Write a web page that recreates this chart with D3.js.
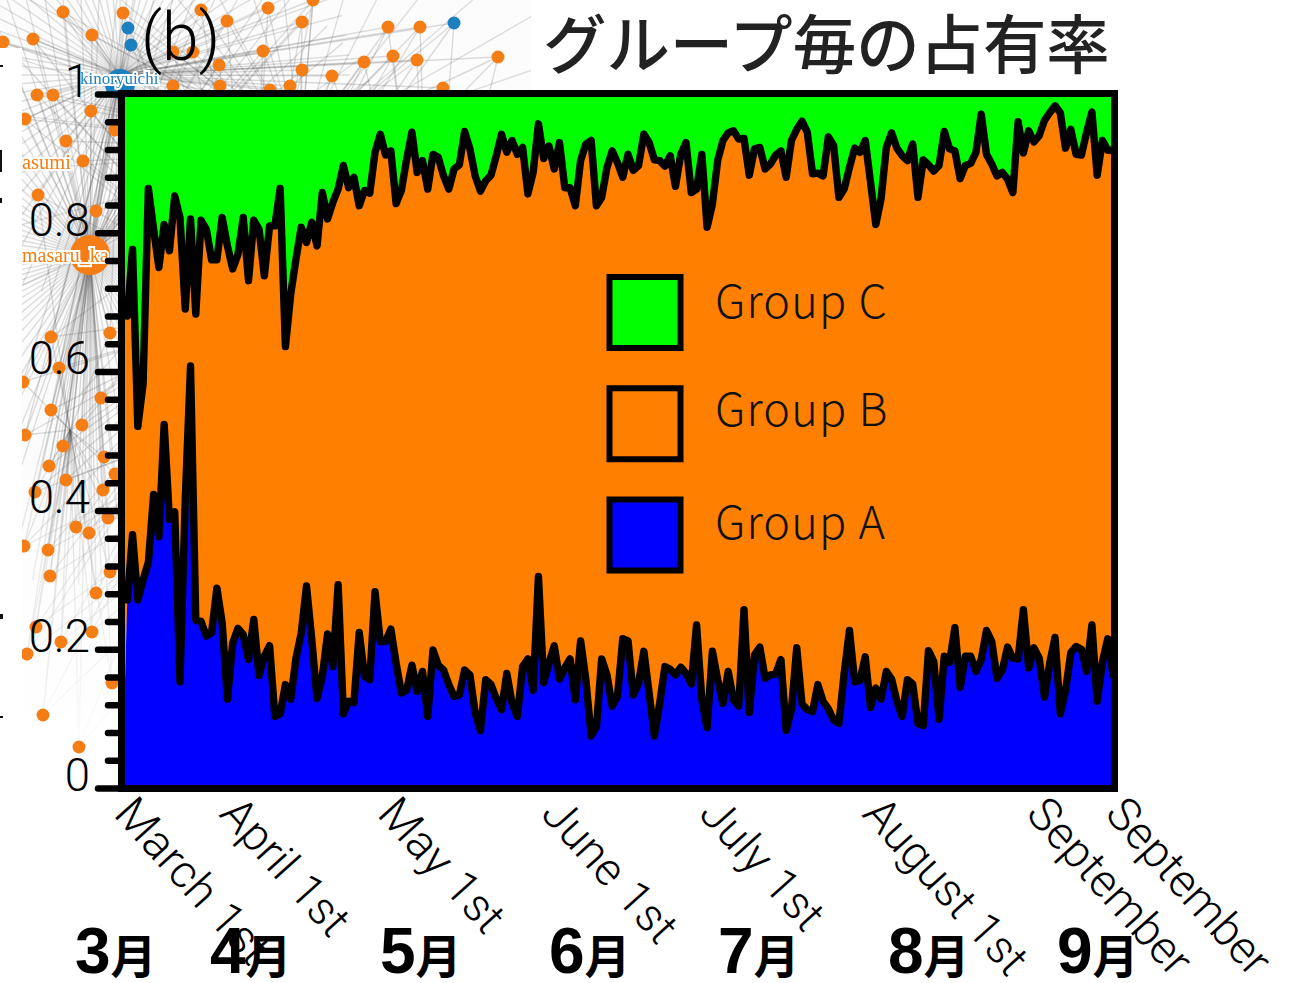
<!DOCTYPE html>
<html lang="ja">
<head>
<meta charset="utf-8">
<title>グループ毎の占有率</title>
<script src="https://cdnjs.cloudflare.com/ajax/libs/d3/7.8.5/d3.min.js"></script>
<style>
html,body{margin:0;padding:0;background:#fff;overflow:hidden;width:1305px;height:983px}
svg{display:block}
</style>
</head>
<body>
<div id="chart"></div>
<script>
// ---- chart data (daily share per group) ----
const groupA = [0,.271,.365,.271,.300,.325,.423,.362,.524,.387,.398,.153,.416,.608,.242,.240,.219,.224,.288,.238,
.128,.209,.230,.221,.185,.243,.162,.190,.205,.103,.107,.149,.128,.187,.223,.291,.214,.129,.161,.222,
.175,.293,.107,.125,.123,.224,.161,.156,.283,.211,.211,.229,.180,.137,.141,.177,.139,.168,.103,.199,
.177,.170,.149,.132,.134,.170,.163,.108,.083,.156,.149,.129,.113,.165,.122,.103,.175,.186,.141,.305,
.152,.180,.205,.157,.173,.186,.127,.212,.156,.075,.088,.186,.163,.118,.132,.215,.212,.134,.151,.197,
.137,.075,.122,.175,.171,.163,.174,.165,.150,.235,.127,.087,.197,.156,.122,.168,.127,.118,.257,.109,
.192,.203,.158,.163,.164,.185,.083,.113,.202,.121,.113,.110,.149,.125,.114,.098,.093,.165,.227,.153,
.155,.189,.116,.144,.128,.168,.157,.125,.103,.156,.150,.093,.090,.198,.182,.099,.190,.181,.231,.145,
.190,.190,.168,.185,.227,.211,.158,.170,.203,.187,.186,.257,.173,.202,.187,.131,.180,.217,.107,.141,
.195,.204,.200,.168,.235,.125,.182,.215,.163];
// Upper edge of Group B: Group A + Group B. Group C fills the rest up to 1.
const groupAplusB = [1,.680,.776,.521,.582,.864,.805,.750,.812,.774,.853,.822,.690,.820,.683,.818,.805,.761,.761,.822,
.781,.748,.769,.822,.731,.818,.805,.738,.810,.810,.864,.636,.711,.762,.808,.786,.815,.781,.858,.820,
.844,.863,.897,.865,.880,.839,.861,.857,.916,.942,.912,.918,.842,.861,.906,.945,.887,.904,.863,.913,
.909,.882,.863,.892,.898,.946,.921,.882,.860,.875,.883,.911,.942,.916,.933,.913,.923,.856,.887,.957,
.907,.925,.892,.930,.865,.865,.839,.904,.928,.933,.839,.851,.894,.918,.901,.880,.913,.890,.897,.942,
.930,.905,.904,.896,.911,.867,.913,.930,.858,.863,.913,.808,.841,.904,.933,.944,.947,.935,.936,.883,
.921,.923,.892,.899,.912,.918,.880,.933,.949,.961,.945,.885,.886,.882,.938,.926,.851,.863,.894,.922,
.916,.933,.873,.812,.849,.923,.944,.922,.911,.904,.928,.851,.905,.898,.889,.897,.946,.921,.918,.878,
.897,.900,.916,.971,.913,.899,.882,.887,.877,.858,.960,.915,.947,.931,.940,.962,.973,.983,.973,.922,
.949,.913,.912,.945,.974,.883,.933,.919,.919];
const tickDays   = [0,20,50,81,111,142,173,188];
const tickLabels = ["March 1st","April 1st","May 1st","June 1st","July 1st","August 1st","September","September"];
const yMajor = [0,.2,.4,.6,.8,1];
const yMinor = [.04,.08,.12,.16,.24,.28,.32,.36,.44,.48,.52,.56,.64,.68,.72,.76,.84,.88,.92,.96];
const monthDigits = ["3","4","5","6","7","8","9"];
const monthPos    = [75,210,380,549,718,888,1057];
const legendNames  = ["Group C","Group B","Group A"];
const legendColors = ["#00ff00","#ff7f00","#0000ff"];
const legendTextDy = [5,2,4];

// ---- backdrop: the network picture the chart was pasted over ----
const nodeX = [3,33,63,92,123,201,227,268,302,313,388,420,263,173,193,219,302,332,364,393,417,498,173,220,270,290,443,37,53,91,25,115,66,83,38,96,51,110,59,23,101,51,82,25,63,104,49,115,66,35,103,108,76,89,24,48,110,50,96,36,92,61,27,112,43,79];
const nodeY = [42,39,12,35,13,10,21,8,22,0,27,27,51,52,52,65,70,76,62,56,60,57,86,86,90,86,88,95,95,111,119,130,141,161,195,211,337,333,368,382,398,410,425,435,446,457,466,474,480,492,490,518,527,533,546,550,572,576,593,627,632,642,654,683,715,747];
const blueX = [128,131,454];
const blueY = [28,45,23];
const hubX = [120,90,250,430,70,300];
const hubY = [75,255,310,340,430,150];

const W = 1305, H = 983;
const svg = d3.select("#chart").append("svg").attr("width",W).attr("height",H).style("font-family","'Liberation Sans',Arial,sans-serif");
const lightFont = "Roboto,'Liberation Sans',sans-serif";

const px = d3.scaleIdentity();
const defs = svg.append("defs");
const clip = defs.append("clipPath").attr("id","bgclip");
clip.append("rect").attr("x",0).attr("y",0).attr("width",531).attr("height",48);
clip.append("rect").attr("x",22).attr("y",48).attr("width",509).attr("height",740);
const fade = defs.append("linearGradient").attr("id","fade").attr("x1",0).attr("y1",0).attr("x2",0).attr("y2",1);
fade.append("stop").attr("offset","0").attr("stop-color","#fff").attr("stop-opacity",0);
fade.append("stop").attr("offset","1").attr("stop-color","#fff").attr("stop-opacity",.9);
defs.append("filter").attr("id","soft").append("feGaussianBlur").attr("stdDeviation",.6);

const bg = svg.append("g").attr("clip-path","url(#bgclip)").append("g").attr("filter","url(#soft)");
const nodes = nodeX.map((x,i)=>({x,y:nodeY[i]})).concat(blueX.map((x,i)=>({x,y:blueY[i]})));
const hubs = hubX.map((x,i)=>({x,y:hubY[i]}));
const edges = [];
nodes.forEach(n=>{
  const order = hubs.map(h=>({h,d:Math.hypot(h.x-n.x,h.y-n.y)})).sort((a,b)=>a.d-b.d);
  edges.push({a:n,b:order[0].h},{a:n,b:order[1].h},{a:n,b:order[2].h},{a:n,b:order[3].h});
});
// dense fans around the two big hubs
const fan = (hub,len,step)=>d3.range(0,360,step).map(deg=>({a:hub,b:{x:hub.x+len*Math.cos(deg*Math.PI/180),y:hub.y+len*Math.sin(deg*Math.PI/180)}}));
const fans = fan(hubs[0],230,5).concat(fan(hubs[1],330,4)).concat(fan(hubs[5],330,11));
bg.append("rect").attr("x",0).attr("y",0).attr("width",531).attr("height",808).attr("fill","#fcfcfc");
bg.append("g").selectAll("line").data(fans).join("line")
  .attr("x1",d=>d.a.x).attr("y1",d=>d.a.y).attr("x2",d=>d.b.x).attr("y2",d=>d.b.y)
  .attr("stroke","#666").attr("stroke-opacity",.2).attr("stroke-width",1.4);
bg.append("g").selectAll("line").data(edges).join("line")
  .attr("x1",d=>px(d.a.x)).attr("y1",d=>px(d.a.y)).attr("x2",d=>px(d.b.x)).attr("y2",d=>px(d.b.y))
  .attr("stroke","#555").attr("stroke-opacity",.2).attr("stroke-width",1.4);
bg.append("rect").attr("x",22).attr("y",430).attr("width",100).attr("height",300).attr("fill","url(#fade)");
bg.append("rect").attr("x",22).attr("y",730).attr("width",100).attr("height",80).attr("fill","#fff").attr("fill-opacity",.9);
bg.append("g").selectAll("circle.o").data(nodeX).join("circle").attr("class","o")
  .attr("cx",(d)=>px(d)).attr("cy",(d,i)=>px(nodeY[i])).attr("r",6.5).attr("fill","#f57d14");
bg.append("g").selectAll("circle.b").data(blueX).join("circle").attr("class","b")
  .attr("cx",d=>px(d)).attr("cy",(d,i)=>px(blueY[i])).attr("r",6.5).attr("fill","#1f7fc0");
bg.append("circle").attr("cx",120).attr("cy",84).attr("r",15).attr("fill","#1f7fc0");
bg.append("circle").attr("cx",90).attr("cy",255).attr("r",20).attr("fill","#f57d14");
const tags = [["kinoryuichi",80,84,17,"#1f7fc0"],["asumi",22,169,20.5,"#f57d14"],["masaru_ka",22,262,20,"#f57d14"]];
const tagG = bg.append("g").style("font-family","'Liberation Serif',serif");
tags.forEach(t=>{
  tagG.append("text").attr("x",t[1]).attr("y",t[2]).attr("font-size",t[3]).attr("fill",t[4])
    .attr("stroke","#fff").attr("stroke-width",4).attr("paint-order","stroke").text(t[0]);
});
// cropped glyph fragments at the far left edge
[[0,65,3,2],[0,150,2,22],[0,198,2,5],[0,614,3,5],[0,716,3,2]].forEach(r=>{
  svg.append("rect").attr("x",r[0]).attr("y",r[1]).attr("width",r[2]).attr("height",r[3]).attr("fill","#111");
});

// ---- scales ----
const x = d3.scaleLinear().domain([0,188]).range([122,1113]);
const y = d3.scaleLinear().domain([0,1]).range([788,94]);
const days = d3.range(groupA.length);

const areaC = d3.area().x(i=>x(i)).y0(i=>y(groupAplusB[i])).y1(()=>y(1));
const areaB = d3.area().x(i=>x(i)).y0(i=>y(groupA[i])).y1(i=>y(groupAplusB[i]));
const areaA = d3.area().x(i=>x(i)).y0(()=>y(0)).y1(i=>y(groupA[i]));
const g = svg.append("g");
g.append("path").datum(days).attr("d",areaC).attr("fill",legendColors[0]);
g.append("path").datum(days).attr("d",areaB).attr("fill",legendColors[1]);
g.append("path").datum(days).attr("d",areaA).attr("fill",legendColors[2]);

// the outlines start on the second day
const lineA = d3.line().defined(i=>i>0).x(i=>x(i)).y(i=>y(groupA[i]));
const lineAB = d3.line().defined(i=>i>0).x(i=>x(i)).y(i=>y(groupAplusB[i]));
[lineA,lineAB].forEach(l=>{
  g.append("path").datum(days).attr("d",l).attr("fill","none").attr("stroke","#000")
    .attr("stroke-width",7.4).attr("stroke-linejoin","round").attr("stroke-linecap","round");
});

// ---- axes ----
const minorAxis = d3.axisLeft(y).tickValues(yMinor).tickSize(10).tickFormat("");
const majorAxis = d3.axisLeft(y).tickValues(yMajor).tickSize(20).tickFormat(d3.format("~g")).tickPadding(8);
const gMinor = svg.append("g").attr("transform","translate(118,0)").call(minorAxis);
const gMajor = svg.append("g").attr("transform","translate(118,0)").call(majorAxis);
[gMinor,gMajor].forEach(a=>{
  a.select(".domain").remove();
  a.selectAll("line").attr("stroke","#000").attr("stroke-width",6.5).attr("stroke-linecap","round");
});
gMajor.selectAll("text").attr("font-size",45.5).attr("fill","#000").attr("dy","0.05em")
  .attr("font-weight",300).attr("font-family",lightFont);

svg.append("rect").attr("x",121.5).attr("y",93.5).attr("width",993).attr("height",695)
  .attr("fill","none").attr("stroke","#000").attr("stroke-width",7);

const xAxis = d3.axisBottom(x).tickValues(tickDays).tickSize(0).tickFormat((d,i)=>tickLabels[i]);
const gx = svg.append("g").attr("transform","translate(0,815)").call(xAxis);
gx.select(".domain").remove();
gx.selectAll("text").attr("font-size",46).attr("fill","#000").attr("text-anchor","start")
  .attr("font-weight",300).attr("font-family",lightFont).attr("word-spacing",2)
  .attr("x",0).attr("y",0).attr("dy",0)
  .attr("transform","translate(-10,0) rotate(48)");

// ---- titles ----
svg.append("text").attr("x",141).attr("y",60).attr("font-size",66).attr("font-weight",300).attr("fill","#000")
  .style("font-family",lightFont).text("(b)");
svg.append("text").attr("x",543).attr("y",68).attr("font-size",63.4).attr("font-weight",500).attr("fill","#222")
  .style("font-family","'Noto Sans CJK JP',sans-serif").text("グループ毎の占有率");

// ---- month captions ----
const months = svg.append("g").selectAll("text").data(monthDigits).join("text")
  .attr("x",(d,i)=>monthPos[i]).attr("y",973).attr("fill","#000").attr("font-weight",700);
months.append("tspan").attr("font-size",64).style("font-family","'Liberation Sans',sans-serif").text(d=>d);
months.append("tspan").attr("font-size",46).style("font-family","'Noto Sans CJK JP',sans-serif").text("月");

// ---- legend ----
const legY = d3.scalePoint().domain(legendNames).range([312.5,535]);
const leg = svg.append("g").selectAll("g").data(legendNames).join("g")
  .attr("transform",d=>`translate(645,${legY(d)})`);
leg.append("rect").attr("x",-35.5).attr("y",-35.5).attr("width",71).attr("height",71)
  .attr("fill",(d,i)=>legendColors[i]).attr("stroke","#000").attr("stroke-width",6);
leg.append("text").attr("x",70).attr("y",(d,i)=>legendTextDy[i]).attr("font-size",45).attr("font-weight",300).attr("letter-spacing",1.2).attr("fill","#111")
  .style("font-family","'Noto Sans CJK JP',sans-serif").text(d=>d);
</script>
</body>
</html>
